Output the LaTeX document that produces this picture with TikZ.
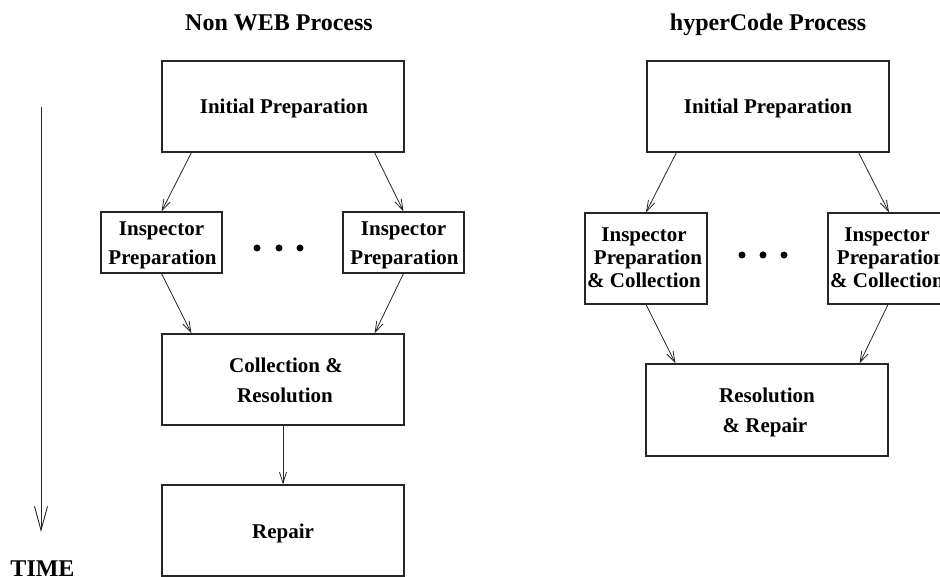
\documentclass[tikz,border=0pt]{standalone}
\usepackage{fontspec}
\setmainfont{Liberation Serif}
\usetikzlibrary{arrows.meta}
\tikzset{
  box/.style={draw=black!85, line width=1.1pt, rectangle, inner sep=0pt},
  lbl/.style={font=\fontsize{21}{25}\selectfont\bfseries, anchor=base, inner sep=0pt},
  ttl/.style={font=\fontsize{24}{28}\selectfont\bfseries, anchor=base, inner sep=0pt},
  conn/.style={draw=black!85, line width=0.8pt, -{Straight Barb[length=11pt,width=7pt]}},
}
\begin{document}
\begin{tikzpicture}[x=1pt,y=-1pt]
\useasboundingbox (0,0) rectangle (940,577);

% ---------- Left: Non WEB Process ----------
\node[ttl] (tL) at (279,31) {Non WEB Process};
\node[box, minimum width=242pt, minimum height=91pt] (initL) at (283,106.5) {};
\node[lbl] (initLt) at (284,114) {Initial Preparation};

\node[box, minimum width=121pt, minimum height=61pt] (insLa) at (161.5,242.5) {};
\node[lbl] (insLa1) at (161.5,236) {Inspector};
\node[lbl] (insLa2) at (162.5,265) {Preparation};

\node[box, minimum width=121pt, minimum height=61pt] (insLb) at (403.5,242.5) {};
\node[lbl] (insLb1) at (403.5,236) {Inspector};
\node[lbl] (insLb2) at (404.5,265) {Preparation};

\fill (257,248) circle (3.5) (279,248) circle (3.5) (300,248) circle (3.5);

\node[box, minimum width=242pt, minimum height=91pt] (colL) at (283,379.5) {};
\node[lbl] (colL1) at (286,372) {Collection \&};
\node[lbl] (colL2) at (285,402) {Resolution};

\node[box, minimum width=242pt, minimum height=91pt] (repL) at (283,530.5) {};
\node[lbl] (repLt) at (283,538) {Repair};

\draw[conn] ([xshift=30pt]initL.south west) -- (insLa.north);
\draw[conn] ([xshift=-30pt]initL.south east) -- (insLb.north);
\draw[conn] (insLa.south) -- ([xshift=30pt]colL.north west);
\draw[conn] (insLb.south) -- ([xshift=-30pt]colL.north east);
\draw[conn] (colL.south) -- (repL.north);

% ---------- Right: hyperCode Process ----------
\node[ttl] (tR) at (768,31) {hyperCode Process};
\node[box, minimum width=242pt, minimum height=91pt] (initR) at (768,106.5) {};
\node[lbl] (initRt) at (768,114) {Initial Preparation};

\node[box, minimum width=122pt, minimum height=91pt] (insRa) at (646,258.5) {};
\node[lbl] (insRa1) at (644,242) {Inspector};
\node[lbl] (insRa2) at (648,265) {Preparation};
\node[lbl] (insRa3) at (644,288) {\& Collection};

\node[box, minimum width=122pt, minimum height=91pt] (insRb) at (889,258.5) {};
\node[lbl] (insRb1) at (887,242) {Inspector};
\node[lbl] (insRb2) at (891,265) {Preparation};
\node[lbl] (insRb3) at (887,288) {\& Collection};

\fill (742,255) circle (3.5) (763,255) circle (3.5) (784,255) circle (3.5);

\node[box, minimum width=242pt, minimum height=92pt] (resR) at (767,410) {};
\node[lbl] (resR1) at (767,402) {Resolution};
\node[lbl] (resR2) at (765,432) {\& Repair};

\draw[conn] ([xshift=30pt]initR.south west) -- (insRa.north);
\draw[conn] ([xshift=-31pt]initR.south east) -- (insRb.north);
\draw[conn] (insRa.south) -- ([xshift=30pt]resR.north west);
\draw[conn] ([xshift=-1pt]insRb.south) -- ([xshift=-29pt]resR.north east);

% ---------- Time axis ----------
\coordinate (t0) at (41,107);
\coordinate (t1) at (41,532);
\draw[draw=black!85, line width=0.9pt, -{Straight Barb[length=24pt,width=13pt]}] (t0) -- (t1);
\node[ttl] (time) at (42.5,576) {TIME};
\end{tikzpicture}
\end{document}
